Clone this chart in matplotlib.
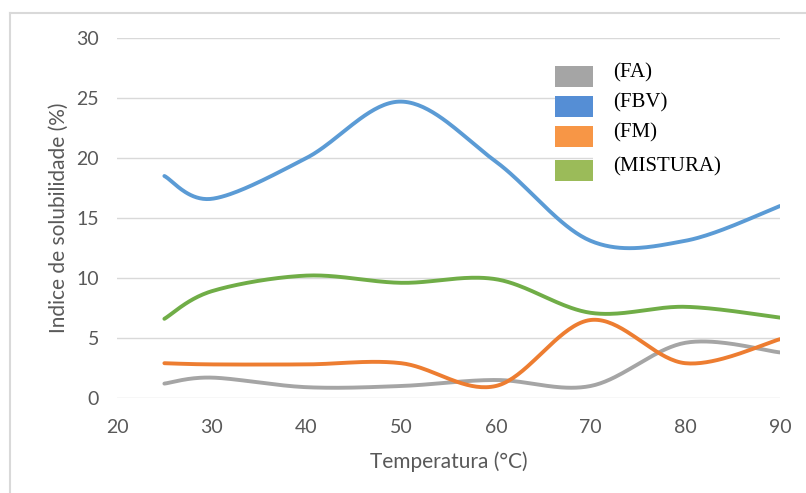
import matplotlib.pyplot as plt
from matplotlib.patches import Rectangle
from matplotlib.lines import Line2D
import numpy as np

# Temperatura (°C) e índice de solubilidade (%) de cada farinha
temperatura = [25, 30, 40, 50, 60, 70, 80, 90]
fa = [1.2, 1.7, 0.9, 1.0, 1.5, 1.0, 4.6, 3.8]
fbv = [18.5, 16.6, 20.0, 24.7, 19.7, 13.1, 13.1, 16.0]
fm = [2.9, 2.8, 2.8, 2.9, 1.0, 6.5, 2.9, 4.9]
mistura = [6.6, 8.9, 10.2, 9.6, 9.9, 7.1, 7.6, 6.7]

series = [
    ("(FA)", fa, "#A5A5A5", "#A5A5A5"),
    ("(FBV)", fbv, "#5B9BD5", "#558ED5"),
    ("(FM)", fm, "#ED7D31", "#F79646"),
    ("(MISTURA)", mistura, "#70AD47", "#9BBB59"),
]


def suavizar(x, y, n=40):
    # curva suavizada tipo Excel (Bezier cúbica passando pelos pontos)
    p = np.column_stack([x, y]).astype(float)
    t = np.linspace(0, 1, n)[:, None]
    out = []
    for i in range(len(p) - 1):
        p0 = p[i - 1] if i > 0 else p[i]
        p1, p2 = p[i], p[i + 1]
        p3 = p[i + 2] if i + 2 < len(p) else p[i + 1]
        c1 = p1 + (p2 - p0) / 6
        c2 = p2 - (p3 - p1) / 6
        seg = ((1 - t) ** 3) * p1 + 3 * ((1 - t) ** 2) * t * c1 \
            + 3 * (1 - t) * t ** 2 * c2 + t ** 3 * p2
        out.append(seg if i == 0 else seg[1:])
    out = np.vstack(out)
    return out[:, 0], out[:, 1]


fig = plt.figure(figsize=(8.06, 4.93), dpi=100)
ax = fig.add_axes([0.1452, 0.1927, 0.8225, 0.7302])

for nome, valores, cor, _ in series:
    xs, ys = suavizar(temperatura, valores)
    ax.plot(xs, ys, color=cor, lw=2.8, solid_capstyle="round", zorder=3)

ax.set_xlim(20, 90)
ax.set_ylim(0, 30)
ax.set_xticks(range(20, 91, 10))
ax.set_yticks(range(0, 31, 5))
ax.grid(axis="y", color="#D9D9D9", lw=1.0)
ax.set_axisbelow(True)
for s in ax.spines.values():
    s.set_visible(False)
ax.tick_params(length=0, labelsize=14, labelcolor="#595959", pad=13)
ax.tick_params(axis="x", pad=15)
for lab in ax.get_xticklabels() + ax.get_yticklabels():
    lab.set_family("Lato")

ax.set_xlabel("Temperatura (°C)", fontsize=15, color="#595959",
              family="Lato", labelpad=11)
ax.set_ylabel("Indice de solubilidade (%)", fontsize=15, color="#595959",
              family="Lato", labelpad=5)

# legenda desenhada à mão (quadrados + texto em fonte serifada)
fig.patches.append(Rectangle((593 / 806, 1 - 188 / 493), 200 / 806, 143 / 493,
                             transform=fig.transFigure, facecolor="white",
                             edgecolor="none", zorder=5))
legenda_y = [76.5, 106.5, 136.5, 170.5]
for (nome, _, _, cor_leg), yp in zip(series, legenda_y):
    fig.patches.append(Rectangle((555 / 806, 1 - (yp + 10.5) / 493), 38 / 806, 21 / 493,
                                 transform=fig.transFigure, facecolor=cor_leg,
                                 edgecolor="none", zorder=6))
    fig.text(613 / 806, 1 - (yp - 4) / 493, nome, family="Liberation Serif",
             fontsize=15, color="black", va="center", ha="left", zorder=7)

# moldura da área do gráfico
fig.add_artist(Line2D([10 / 806, 10 / 806], [0, 1 - 13 / 493], color="#D9D9D9",
                      lw=1.5, transform=fig.transFigure))
fig.add_artist(Line2D([10 / 806, 1], [1 - 13 / 493, 1 - 13 / 493], color="#D9D9D9",
                      lw=1.5, transform=fig.transFigure))

fig.savefig("out.png", dpi=100)
